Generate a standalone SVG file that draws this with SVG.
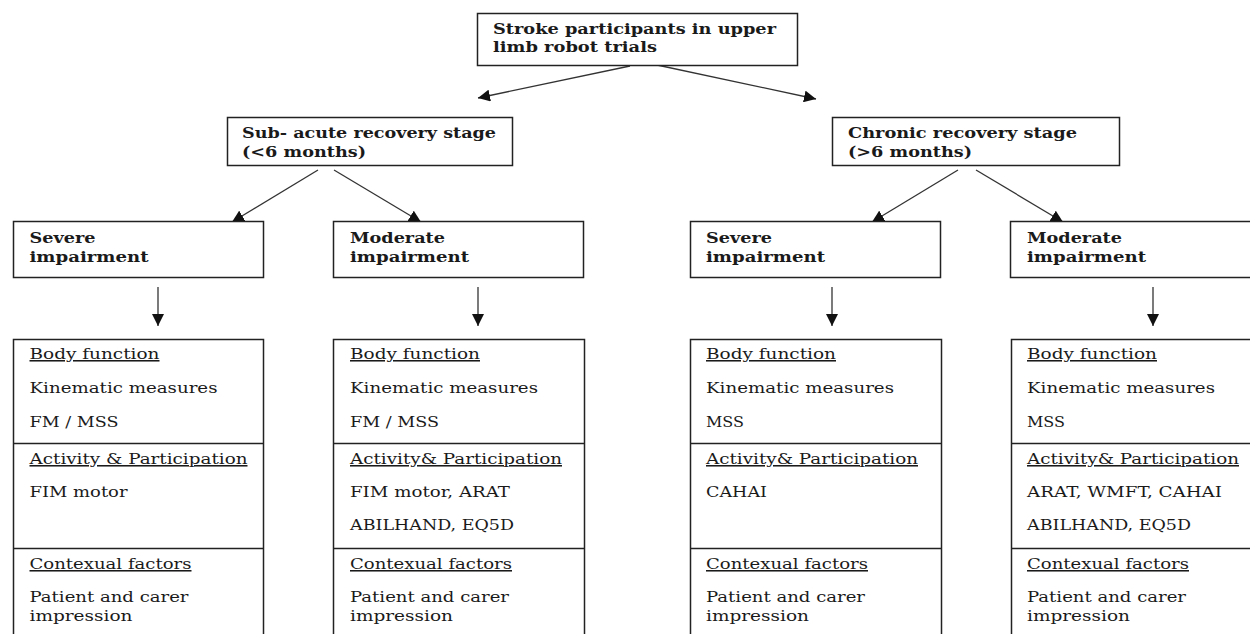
<svg xmlns="http://www.w3.org/2000/svg" width="1250" height="634" viewBox="0 0 1250 634">
<style>
.box{fill:#fff;stroke:#222;stroke-width:1.5}
.div{stroke:#222;stroke-width:1.5}
.t{font-family:"DejaVu Serif","Liberation Serif",serif;font-size:15.5px;fill:#1a1a1a}
.b{font-weight:bold}
.u{text-decoration:underline}
.c{stroke:#333;stroke-width:1.3;fill:none}
</style>
<defs>
<marker id="ah" viewBox="0 0 12 12" refX="12" refY="6" markerWidth="12" markerHeight="12" markerUnits="userSpaceOnUse" orient="auto">
<path d="M0,0 L12,6 L0,12 z" fill="#111"/>
</marker>
</defs>
<rect width="1250" height="634" fill="#fff"/>

<g id="connectors">
<line class="c" x1="630" y1="66" x2="478" y2="98" marker-end="url(#ah)"/>
<line class="c" x1="657" y1="65" x2="816" y2="99" marker-end="url(#ah)"/>
<line class="c" x1="318" y1="170" x2="232" y2="222" marker-end="url(#ah)"/>
<line class="c" x1="334" y1="170" x2="421" y2="222" marker-end="url(#ah)"/>
<line class="c" x1="958" y1="170" x2="872" y2="222" marker-end="url(#ah)"/>
<line class="c" x1="976" y1="170" x2="1063" y2="222" marker-end="url(#ah)"/>
<line class="c" x1="158" y1="287" x2="158" y2="326" marker-end="url(#ah)"/>
<line class="c" x1="478" y1="287" x2="478" y2="326" marker-end="url(#ah)"/>
<line class="c" x1="832" y1="287" x2="832" y2="326" marker-end="url(#ah)"/>
<line class="c" x1="1153" y1="287" x2="1153" y2="326" marker-end="url(#ah)"/>
</g>

<g id="root">
<rect class="box" x="477.5" y="13.5" width="320" height="52"/>
<text class="t b" x="493" y="34" textLength="283" lengthAdjust="spacingAndGlyphs">Stroke participants in upper</text>
<text class="t b" x="493" y="52" textLength="164" lengthAdjust="spacingAndGlyphs">limb robot trials</text>
</g>

<g id="subacute">
<rect class="box" x="227.5" y="117.5" width="285" height="48"/>
<text class="t b" x="242" y="138" textLength="254" lengthAdjust="spacingAndGlyphs">Sub- acute recovery stage</text>
<text class="t b" x="242" y="157" textLength="124" lengthAdjust="spacingAndGlyphs">(&lt;6 months)</text>
</g>

<g id="chronic">
<rect class="box" x="832.5" y="117.5" width="287" height="48"/>
<text class="t b" x="848" y="138" textLength="229" lengthAdjust="spacingAndGlyphs">Chronic recovery stage</text>
<text class="t b" x="848" y="157" textLength="124" lengthAdjust="spacingAndGlyphs">(&gt;6 months)</text>
</g>

<g id="sa-severe">
<rect class="box" x="13.5" y="221.5" width="250" height="56"/>
<text class="t b" x="29.5" y="243" textLength="66" lengthAdjust="spacingAndGlyphs">Severe</text>
<text class="t b" x="29.5" y="262" textLength="119" lengthAdjust="spacingAndGlyphs">impairment</text>
</g>

<g id="sa-moderate">
<rect class="box" x="333.5" y="221.5" width="250" height="56"/>
<text class="t b" x="350" y="243" textLength="95" lengthAdjust="spacingAndGlyphs">Moderate</text>
<text class="t b" x="350" y="262" textLength="119" lengthAdjust="spacingAndGlyphs">impairment</text>
</g>

<g id="ch-severe">
<rect class="box" x="690.5" y="221.5" width="250" height="56"/>
<text class="t b" x="706" y="243" textLength="66" lengthAdjust="spacingAndGlyphs">Severe</text>
<text class="t b" x="706" y="262" textLength="119" lengthAdjust="spacingAndGlyphs">impairment</text>
</g>

<g id="ch-moderate">
<rect class="box" x="1010.5" y="221.5" width="260" height="56"/>
<text class="t b" x="1027" y="243" textLength="95" lengthAdjust="spacingAndGlyphs">Moderate</text>
<text class="t b" x="1027" y="262" textLength="119" lengthAdjust="spacingAndGlyphs">impairment</text>
</g>

<g id="sa-severe-measures">
<rect class="box" x="13.5" y="339.5" width="250" height="320"/>
<line class="div" x1="13.5" y1="443.5" x2="263.5" y2="443.5"/>
<line class="div" x1="13.5" y1="548.5" x2="263.5" y2="548.5"/>
<text class="t u" x="29.5" y="359" textLength="130" lengthAdjust="spacingAndGlyphs">Body function</text>
<text class="t" x="29.5" y="393" textLength="188" lengthAdjust="spacingAndGlyphs">Kinematic measures</text>
<text class="t" x="29.5" y="427" textLength="89" lengthAdjust="spacingAndGlyphs">FM / MSS</text>
<text class="t u" x="29.5" y="464" textLength="218" lengthAdjust="spacingAndGlyphs">Activity &amp; Participation</text>
<text class="t" x="29.5" y="497" textLength="98" lengthAdjust="spacingAndGlyphs">FIM motor</text>
<text class="t u" x="29.5" y="569" textLength="162" lengthAdjust="spacingAndGlyphs">Contexual factors</text>
<text class="t" x="29.5" y="602" textLength="159" lengthAdjust="spacingAndGlyphs">Patient and carer</text>
<text class="t" x="29.5" y="621" textLength="103" lengthAdjust="spacingAndGlyphs">impression</text>
</g>

<g id="sa-moderate-measures">
<rect class="box" x="333.5" y="339.5" width="251" height="320"/>
<line class="div" x1="333.5" y1="443.5" x2="584.5" y2="443.5"/>
<line class="div" x1="333.5" y1="548.5" x2="584.5" y2="548.5"/>
<text class="t u" x="350" y="359" textLength="130" lengthAdjust="spacingAndGlyphs">Body function</text>
<text class="t" x="350" y="393" textLength="188" lengthAdjust="spacingAndGlyphs">Kinematic measures</text>
<text class="t" x="350" y="427" textLength="89" lengthAdjust="spacingAndGlyphs">FM / MSS</text>
<text class="t u" x="350" y="464" textLength="212" lengthAdjust="spacingAndGlyphs">Activity&amp; Participation</text>
<text class="t" x="350" y="497" textLength="160" lengthAdjust="spacingAndGlyphs">FIM motor, ARAT</text>
<text class="t" x="350" y="530" textLength="164" lengthAdjust="spacingAndGlyphs">ABILHAND, EQ5D</text>
<text class="t u" x="350" y="569" textLength="162" lengthAdjust="spacingAndGlyphs">Contexual factors</text>
<text class="t" x="350" y="602" textLength="159" lengthAdjust="spacingAndGlyphs">Patient and carer</text>
<text class="t" x="350" y="621" textLength="103" lengthAdjust="spacingAndGlyphs">impression</text>
</g>

<g id="ch-severe-measures">
<rect class="box" x="690.5" y="339.5" width="251" height="320"/>
<line class="div" x1="690.5" y1="443.5" x2="941.5" y2="443.5"/>
<line class="div" x1="690.5" y1="548.5" x2="941.5" y2="548.5"/>
<text class="t u" x="706" y="359" textLength="130" lengthAdjust="spacingAndGlyphs">Body function</text>
<text class="t" x="706" y="393" textLength="188" lengthAdjust="spacingAndGlyphs">Kinematic measures</text>
<text class="t" x="706" y="427" textLength="38" lengthAdjust="spacingAndGlyphs">MSS</text>
<text class="t u" x="706" y="464" textLength="212" lengthAdjust="spacingAndGlyphs">Activity&amp; Participation</text>
<text class="t" x="706" y="497" textLength="61" lengthAdjust="spacingAndGlyphs">CAHAI</text>
<text class="t u" x="706" y="569" textLength="162" lengthAdjust="spacingAndGlyphs">Contexual factors</text>
<text class="t" x="706" y="602" textLength="159" lengthAdjust="spacingAndGlyphs">Patient and carer</text>
<text class="t" x="706" y="621" textLength="103" lengthAdjust="spacingAndGlyphs">impression</text>
</g>

<g id="ch-moderate-measures">
<rect class="box" x="1011.5" y="339.5" width="260" height="320"/>
<line class="div" x1="1011.5" y1="443.5" x2="1271.5" y2="443.5"/>
<line class="div" x1="1011.5" y1="548.5" x2="1271.5" y2="548.5"/>
<text class="t u" x="1027" y="359" textLength="130" lengthAdjust="spacingAndGlyphs">Body function</text>
<text class="t" x="1027" y="393" textLength="188" lengthAdjust="spacingAndGlyphs">Kinematic measures</text>
<text class="t" x="1027" y="427" textLength="38" lengthAdjust="spacingAndGlyphs">MSS</text>
<text class="t u" x="1027" y="464" textLength="212" lengthAdjust="spacingAndGlyphs">Activity&amp; Participation</text>
<text class="t" x="1027" y="497" textLength="195" lengthAdjust="spacingAndGlyphs">ARAT, WMFT, CAHAI</text>
<text class="t" x="1027" y="530" textLength="164" lengthAdjust="spacingAndGlyphs">ABILHAND, EQ5D</text>
<text class="t u" x="1027" y="569" textLength="162" lengthAdjust="spacingAndGlyphs">Contexual factors</text>
<text class="t" x="1027" y="602" textLength="159" lengthAdjust="spacingAndGlyphs">Patient and carer</text>
<text class="t" x="1027" y="621" textLength="103" lengthAdjust="spacingAndGlyphs">impression</text>
</g>
</svg>
